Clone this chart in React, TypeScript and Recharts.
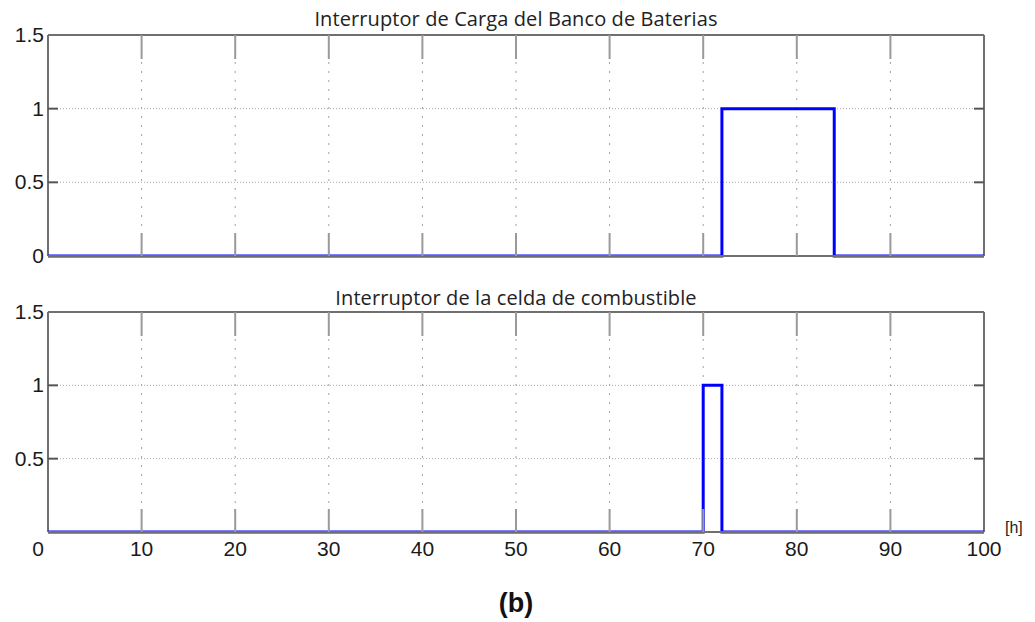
import { LineChart, Line, XAxis, YAxis, CartesianGrid, ReferenceLine } from "recharts"

// hours at which each switch changes state, and its state from that hour on
const batteryHours = [0, 72, 84, 100]
const batteryState = [0, 1, 0, 0]
const fuelCellHours = [0, 70, 72, 100]
const fuelCellState = [0, 1, 0, 0]

const xTicks = [0, 10, 20, 30, 40, 50, 60, 70, 80, 90, 100]
const yTicks = [0, 0.5, 1, 1.5]

const topTitle = "Interruptor de Carga del Banco de Baterias"
const bottomTitle = "Interruptor de la celda de combustible"

const batteryData = batteryHours.map((h, i) => ({ h, v: batteryState[i] }))
const fuelCellData = fuelCellHours.map((h, i) => ({ h, v: fuelCellState[i] }))

const W = 1035
const LEFT = 48
const RIGHT = 51
const PLOT_W = W - LEFT - RIGHT
const LABEL_FONT = "'Liberation Sans', Arial, sans-serif"
const TICK_COLOR = "#9a9a9a"
const BOX_COLOR = "#6f6f6f"

const makeXTick = (plotH: number, showLabels: boolean) => (props: any) => {
    const { x, y, payload } = props
    const v = payload.value
    const inner = v !== 0 && v !== 100
    return (
        <g>
            {inner && <line x1={x} x2={x} y1={y} y2={y - 23} stroke={TICK_COLOR} strokeWidth={2} />}
            {inner && <line x1={x} x2={x} y1={y - plotH} y2={y - plotH + 24} stroke={TICK_COLOR} strokeWidth={2} />}
            {showLabels && (
                <text
                    x={v === 0 ? x - 10 : x}
                    y={y + 24}
                    textAnchor="middle"
                    fill="#1a1a1a"
                    fontSize={21}
                    fontFamily={LABEL_FONT}
                >
                    {v}
                </text>
            )}
        </g>
    )
}

const makeYTick = (showZero: boolean) => (props: any) => {
    const { x, y, payload } = props
    const v = payload.value
    const inner = v !== 0 && v !== 1.5
    return (
        <g>
            {inner && <line x1={x} x2={x + 10} y1={y} y2={y} stroke="#555" strokeWidth={2} />}
            {inner && <line x1={x + PLOT_W - 10} x2={x + PLOT_W} y1={y} y2={y} stroke="#555" strokeWidth={2} />}
            {(showZero || v !== 0) && (
                <text x={x - 4} y={y + 7} textAnchor="end" fill="#1a1a1a" fontSize={21} fontFamily={LABEL_FONT}>
                    {v}
                </text>
            )}
        </g>
    )
}

type PanelProps = {
    data: { h: number; v: number }[]
    top: number
    height: number
    marginTop: number
    axisHeight: number
    showXLabels: boolean
    showYZero: boolean
}

function SwitchPanel({ data, top, height, marginTop, axisHeight, showXLabels, showYZero }: PanelProps) {
    const plotH = height - marginTop - axisHeight
    return (
        <div style={{ position: "absolute", left: 0, top }}>
            <LineChart width={W} height={height} data={data} margin={{ top: marginTop, right: RIGHT, bottom: 0, left: 0 }}>
                <CartesianGrid horizontal={false} stroke="#a0a0a0" strokeDasharray="2 7" />
                <CartesianGrid vertical={false} stroke="#a8a8a8" strokeDasharray="1 2" />
                <XAxis
                    dataKey="h"
                    type="number"
                    domain={[0, 100]}
                    ticks={xTicks}
                    interval={0}
                    height={axisHeight}
                    tickSize={0}
                    tickMargin={0}
                    tickLine={false}
                    axisLine={{ stroke: BOX_COLOR, strokeWidth: 2 }}
                    tick={makeXTick(plotH, showXLabels)}
                />
                <YAxis
                    type="number"
                    domain={[0, 1.5]}
                    ticks={yTicks}
                    interval={0}
                    width={LEFT}
                    tickSize={0}
                    tickMargin={0}
                    tickLine={false}
                    axisLine={false}
                    tick={makeYTick(showYZero)}
                />
                <ReferenceLine y={1.5} stroke={BOX_COLOR} strokeWidth={2} />
                <ReferenceLine x={0} stroke={BOX_COLOR} strokeWidth={2} />
                <ReferenceLine x={100} stroke={BOX_COLOR} strokeWidth={2} />
                <Line
                    type="stepAfter"
                    dataKey="v"
                    stroke="#0000ff"
                    strokeWidth={3}
                    dot={false}
                    isAnimationActive={false}
                />
            </LineChart>
        </div>
    )
}

const titleStyle: React.CSSProperties = {
    position: "absolute",
    left: LEFT,
    width: PLOT_W,
    textAlign: "center",
    fontFamily: "'Open Sans', sans-serif",
    fontSize: 20,
    color: "#222",
    lineHeight: "24px",
    letterSpacing: 0.1,
    zIndex: 1,
}

export default function App() {
    return (
        <div style={{ position: "absolute", left: 0, top: 0, width: W, height: 622, background: "#fff" }}>
            <SwitchPanel data={batteryData} top={0} height={280} marginTop={35} axisHeight={24} showXLabels={false} showYZero={true} />
            <SwitchPanel data={fuelCellData} top={260} height={300} marginTop={52} axisHeight={28} showXLabels={true} showYZero={false} />
            <div style={{ ...titleStyle, top: 7 }}>{topTitle}</div>
            <div style={{ ...titleStyle, top: 286 }}>{bottomTitle}</div>
            <div style={{ position: "absolute", left: 1005, top: 519, fontFamily: LABEL_FONT, fontSize: 16, color: "#222" }}>[h]</div>
            <div
                style={{
                    position: "absolute",
                    left: LEFT,
                    width: PLOT_W,
                    top: 588,
                    textAlign: "center",
                    fontFamily: LABEL_FONT,
                    fontWeight: "bold",
                    fontSize: 27,
                    lineHeight: "30px",
                    color: "#111",
                }}
            >
                (b)
            </div>
        </div>
    )
}
